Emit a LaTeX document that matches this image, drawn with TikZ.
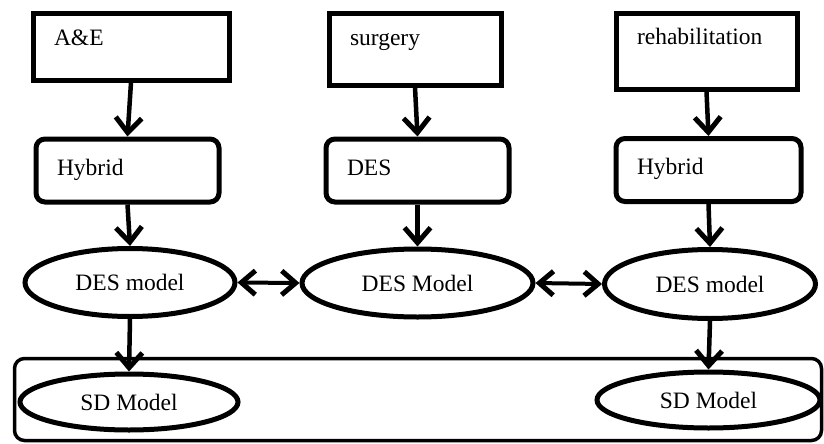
\documentclass[tikz,border=0pt]{standalone}
\usepackage{fontspec}
\setmainfont{Liberation Serif}
\usetikzlibrary{positioning}
\usetikzlibrary{shapes.geometric}
\usetikzlibrary{arrows.meta}

\begin{document}
\begin{tikzpicture}[x=1pt,y=-1pt,
  every node/.style={font=\fontsize{23.5}{28}\selectfont},
  topbox/.style={draw,line width=5pt,inner xsep=21pt,inner ysep=0pt,align=left},
  midbox/.style={draw,rounded corners=9pt,line width=5pt,inner xsep=21pt,inner ysep=0pt,align=left},
  model/.style={draw,ellipse,line width=5pt,inner sep=0pt},
  flow/.style={line width=4.5pt,-{Straight Barb[length=15pt,width=26pt,line width=5pt]}},
  link/.style={line width=4pt,{Straight Barb[length=14pt,width=24pt,line width=5pt]}-{Straight Barb[length=14pt,width=24pt,line width=5pt]}}]
\useasboundingbox (0,0) rectangle (824,444);
\node[draw,line width=3.5pt,rounded corners=10pt,minimum width=807pt,minimum height=82pt,inner sep=0pt] (frame) at (418,399.5) {};
\node[topbox,text width=154pt,text height=32pt,text depth=34pt] (ae) at (131,47) {A\&E};
\node[topbox,text width=130pt,text height=32pt,text depth=39pt] (surgery) at (415,49.5) {surgery};
\node[topbox,text width=139pt,text height=31pt,text depth=44pt] (rehab) at (706.5,51.5) {rehabilitation};
\node[midbox,text width=141pt,text height=36pt,text depth=27pt] (hyb1) at (127.5,170.5) {Hybrid};
\node[midbox,text width=141pt,text height=36pt,text depth=27pt] (desbox) at (417.5,170.5) {DES};
\node[midbox,text width=143pt,text height=36pt,text depth=27pt] (hyb3) at (708.5,170) {Hybrid};
\node[model,minimum width=210pt,minimum height=68pt] (des1) at (130,282.5) {DES model};
\node[model,minimum width=231pt,minimum height=68pt] (des2) at (417.5,283) {DES Model};
\node[model,minimum width=211pt,minimum height=69pt] (des3) at (710,284) {DES model};
\node[model,minimum width=218pt,minimum height=56pt] (sd1) at (129,402) {SD Model};
\node[model,minimum width=223pt,minimum height=56pt] (sd3) at (708.5,400) {SD Model};
\draw[flow] (ae.south) -- (hyb1.north);
\draw[flow] (surgery.south) -- (desbox.north);
\draw[flow] (rehab.south) -- (hyb3.north);
\draw[flow] (hyb1.south) -- (des1.north);
\draw[flow] (desbox.south) -- (des2.north);
\draw[flow] (hyb3.south) -- (des3.north);
\draw[flow] (des1.south) -- (sd1.north);
\draw[flow] (des3.south) -- (sd3.north);
\draw[link] (des1.east) -- (des2.west);
\draw[link] (des2.east) -- (des3.west);
\end{tikzpicture}
\end{document}
